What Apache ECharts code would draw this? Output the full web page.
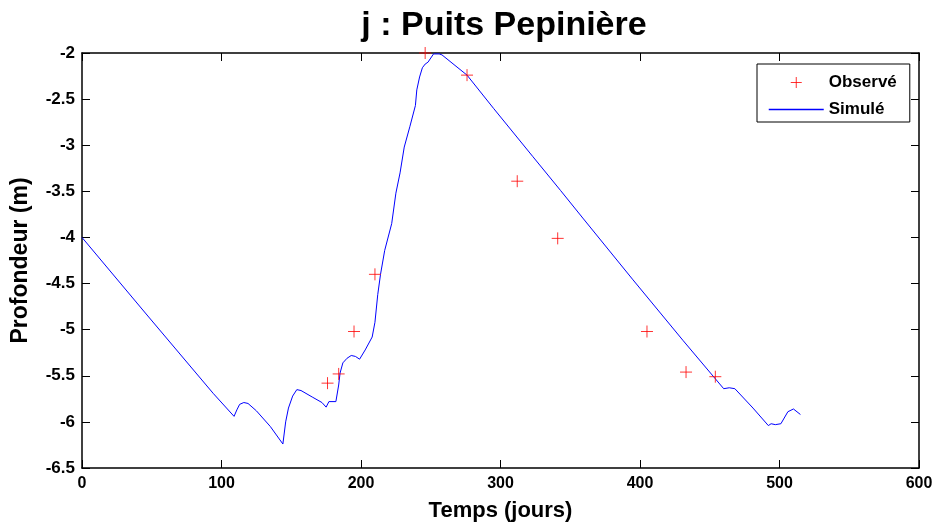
<!DOCTYPE html>
<html>
<head>
<meta charset="utf-8">
<script src="https://cdn.jsdelivr.net/npm/echarts@6/dist/echarts.min.js"></script>
<style>
  html, body { margin: 0; padding: 0; background: #fff; }
  #chart { width: 939px; height: 528px; }
</style>
</head>
<body>
<div id="chart"></div>
<script>
// observed points (jours, profondeur m)
var obsDays = [176, 184, 195, 210, 246, 276, 312, 341, 405, 433, 454]
var obsDepth = [-5.58, -5.48, -5.02, -4.40, -2.0, -2.24, -3.39, -4.01, -5.02, -5.46, -5.51]

// simulated curve
var simDays = [0, 46, 94, 109, 111, 113, 116, 119, 125, 135, 144, 146, 148, 151, 154, 157, 165, 172, 175,
  177, 182, 184, 185, 187, 190, 193, 196, 199, 203, 208, 210, 212, 214, 217, 222, 225, 228, 231, 235,
  239, 240, 242, 244, 246, 248, 252, 256, 258, 276, 295, 323, 343, 359, 395, 431, 460, 464, 468, 481,
  492, 494, 497, 501, 506, 510, 515]
var simDepth = [-4.00, -4.83, -5.69, -5.94, -5.87, -5.81, -5.79, -5.80, -5.88, -6.05, -6.24, -6.00, -5.85,
  -5.72, -5.65, -5.66, -5.73, -5.79, -5.84, -5.78, -5.78, -5.60, -5.47, -5.36, -5.31, -5.28, -5.29, -5.32,
  -5.22, -5.08, -4.92, -4.62, -4.40, -4.14, -3.85, -3.52, -3.30, -3.02, -2.80, -2.57, -2.40, -2.26,
  -2.16, -2.12, -2.10, -2.01, -2.01, -2.02, -2.24, -2.60, -3.12, -3.49, -3.79, -4.46, -5.12, -5.64, -5.63,
  -5.64, -5.85, -6.04, -6.02, -6.03, -6.02, -5.89, -5.86, -5.92]

var xTicks = [0, 100, 200, 300, 400, 500, 600]
var yTicks = [-6.5, -6, -5.5, -5, -4.5, -4, -3.5, -3, -2.5, -2]

var font = 'Liberation Sans'
var crossPath = 'path://M5,0L5,10M0,5L10,5'

var myChart = echarts.init(document.getElementById('chart'))

var obsData = obsDays.map(function (d, i) { return [d, obsDepth[i]] })
var simData = simDays.map(function (d, i) { return [d, simDepth[i]] })

var tickStyle = { show: true, inside: true, length: 8, lineStyle: { color: '#000', width: 1 } }
var lineStyle = { show: true, onZero: false, lineStyle: { color: '#000', width: 1.5 } }

var option = {
  backgroundColor: '#fff',
  animation: false,
  title: {
    text: 'j : Puits Pepinière',
    left: 499,
    top: 4,
    textAlign: 'center',
    textStyle: { fontFamily: font, fontWeight: 'bold', fontSize: 34, color: '#000' }
  },
  legend: {
    data: [
      { name: 'Observé', itemStyle: { color: 'none', borderColor: '#ff0000', borderWidth: 1 } },
      { name: 'Simulé', itemStyle: { opacity: 0 }, lineStyle: { color: '#0000ff', width: 1.5 } }
    ],
    orient: 'vertical',
    left: 757,
    top: 64,
    padding: [10, 13, 4, 11],
    itemWidth: 55,
    itemHeight: 11,
    itemGap: 10,
    borderColor: '#000',
    borderWidth: 1,
    backgroundColor: '#fff',
    textStyle: { fontFamily: font, fontWeight: 'bold', fontSize: 17, color: '#000' }
  },
  grid: { left: 82, right: 20, top: 53, bottom: 60 },
  xAxis: [
    {
      type: 'value',
      min: 0,
      max: 600,
      interval: 100,
      name: 'Temps (jours)',
      nameLocation: 'middle',
      nameGap: 32,
      nameTextStyle: { fontFamily: font, fontWeight: 'bold', fontSize: 22, color: '#000' },
      axisLine: lineStyle,
      axisTick: tickStyle,
      splitLine: { show: false },
      axisLabel: { margin: 8, fontFamily: font, fontWeight: 'bold', fontSize: 16, color: '#000' }
    },
    {
      type: 'value',
      position: 'top',
      min: 0,
      max: 600,
      interval: 100,
      axisLine: lineStyle,
      axisTick: tickStyle,
      splitLine: { show: false },
      axisLabel: { show: false }
    }
  ],
  yAxis: [
    {
      type: 'value',
      min: -6.5,
      max: -2,
      interval: 0.5,
      name: 'Profondeur (m)',
      nameLocation: 'middle',
      nameGap: 50,
      nameTextStyle: { fontFamily: font, fontWeight: 'bold', fontSize: 23, color: '#000' },
      axisLine: lineStyle,
      axisTick: tickStyle,
      splitLine: { show: false },
      axisLabel: { margin: 7, fontFamily: font, fontWeight: 'bold', fontSize: 17, color: '#000' }
    },
    {
      type: 'value',
      position: 'right',
      min: -6.5,
      max: -2,
      interval: 0.5,
      axisLine: lineStyle,
      axisTick: tickStyle,
      splitLine: { show: false },
      axisLabel: { show: false }
    }
  ],
  series: [
    {
      name: 'Observé',
      type: 'scatter',
      symbol: crossPath,
      symbolSize: 12,
      symbolKeepAspect: true,
      itemStyle: { color: 'none', borderColor: '#ff0000', borderWidth: 1 },
      data: obsData,
      z: 3
    },
    {
      name: 'Simulé',
      type: 'line',
      showSymbol: false,
      symbol: 'none',
      lineStyle: { color: '#0000ff', width: 1 },
      itemStyle: { color: '#0000ff' },
      data: simData,
      z: 2
    }
  ]
}

myChart.setOption(option)
</script>
</body>
</html>
